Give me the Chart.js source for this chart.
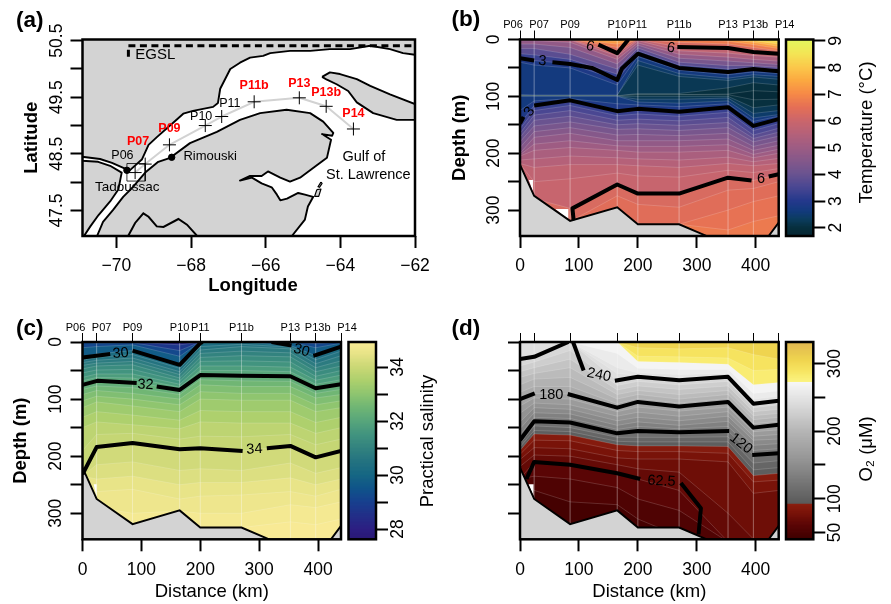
<!DOCTYPE html>
<html><head><meta charset="utf-8">
<style>html,body{margin:0;padding:0;background:#fff;width:891px;height:604px;overflow:hidden}canvas{position:absolute;left:0;top:0}</style>
<script src="https://cdn.jsdelivr.net/npm/chart.js@4"></script>
</head><body>
<script>
// ---------- station data
const stationNames=['P06','P07','P09','P10','P11','P11b','P13','P13b','P14'];
const stationKm=[0,24,85,165,200,270,353,396,439];
const stationLon=[-69.50,-69.23,-68.58,-67.62,-67.18,-66.31,-65.10,-64.38,-63.65];
const stationLat=[48.17,48.32,48.66,49.00,49.16,49.42,49.49,49.34,48.94];
const stationRed=[false,true,true,false,false,true,true,true,true];
const stationLabelLon=[-69.84,-69.42,-68.58,-67.73,-66.96,-66.31,-65.10,-64.38,-63.65];
const stationLabelLat=[48.47,48.72,48.94,49.16,49.39,49.70,49.75,49.59,49.21];
const stationLabelNudge=[-7,5,0,0,0,0,0,2,6];
// ---------- map outlines [lon,lat]
const waterOutline=[[-70.87,47.05],[-70.70,47.22],[-70.48,47.42],[-70.17,47.66],[-69.95,47.87],[-69.86,48.17],[-70.17,48.29],[-70.49,48.36],[-70.92,48.38],[-70.92,48.45],[-70.44,48.41],[-70.12,48.34],[-69.77,48.24],[-69.66,48.20],[-69.32,48.40],[-69.14,48.66],[-68.91,48.80],[-68.48,49.05],[-68.21,49.21],[-67.95,49.26],[-67.41,49.33],[-67.28,49.40],[-67.22,49.65],[-66.95,50.00],[-66.69,50.11],[-66.42,50.20],[-66.07,50.23],[-65.88,50.28],[-65.35,50.32],[-64.81,50.32],[-64.28,50.35],[-63.74,50.35],[-63.20,50.41],[-62.67,50.35],[-62.32,50.28],[-62.0,50.25],[-62.0,47.05],[-65.30,47.05],[-64.95,47.34],[-64.87,47.57],[-64.73,47.74],[-64.95,47.78],[-65.13,47.81],[-65.43,47.71],[-65.61,47.68],[-65.70,47.78],[-65.84,47.91],[-66.11,47.98],[-66.37,48.08],[-66.69,48.03],[-66.42,48.11],[-66.11,48.11],[-65.94,48.19],[-65.61,48.08],[-65.35,48.01],[-65.08,48.08],[-64.73,48.25],[-64.36,48.43],[-64.25,48.75],[-64.49,48.85],[-64.22,48.82],[-64.19,48.87],[-64.46,49.07],[-64.81,49.22],[-65.44,49.28],[-66.15,49.22],[-66.69,49.10],[-67.31,48.89],[-68.03,48.69],[-68.56,48.43],[-68.88,48.36],[-69.23,48.17],[-69.55,47.92],[-69.82,47.74],[-70.09,47.51],[-70.36,47.30],[-70.52,47.05],[-70.87,47.05]];
const anticosti=[[-64.49,49.86],[-64.28,49.94],[-64.01,49.91],[-63.56,49.82],[-63.20,49.70],[-62.67,49.55],[-62,49.38],[-62,49.10],[-62.49,49.10],[-63.12,49.22],[-63.56,49.41],[-63.79,49.61],[-64.10,49.73],[-64.36,49.81],[-64.49,49.86]];
const islandA=[[-64.52,48.0],[-64.49,47.98],[-64.56,47.91],[-64.60,47.92],[-64.52,48.0]];
const islandB=[[-64.63,47.87],[-64.52,47.88],[-64.58,47.75],[-64.69,47.75],[-64.63,47.87]];
const borderLine=[[-69.68,47.06],[-69.5,47.28],[-69.28,47.45],[-69.14,47.39],[-68.92,47.22],[-68.74,47.21],[-68.34,47.35],[-68.11,47.25],[-67.85,47.06]];
const tadoussacBox=[[-69.72,48.33],[-69.23,48.33],[-69.23,48.02],[-69.72,48.02],[-69.72,48.33]];
const egslHorizontal=[[-69.68,50.41],[-62,50.41]];
const egslVertical=[[-69.68,50.34],[-69.68,50.16]];
const cityPoints=[[-69.72,48.21],[-68.52,48.44]];
// ---------- ticks
const lonTicks=[-70,-68,-66,-64,-62];
const lonLabels=['\u221270','\u221268','\u221266','\u221264','\u221262'];
const latTicks=[47.5,48,48.5,49,49.5,50,50.5];
const latLabels=['47.5','','48.5','','49.5','','50.5'];
const depthTicks=[0,50,100,150,200,250,300];
const depthLabels=['0','','100','','200','','300'];
const distTicks=[0,100,200,300,400];
const distLabels=['0','100','200','300','400'];
const tempTicks=[2,3,4,5,6,7,8,9];
const tempLabels=['2','3','4','5','6','7','8','9'];
const salTicks=[28,29,30,31,32,33,34];
const salLabels=['28','','30','','32','','34'];
const oxyTicks=[50,100,150,200,250,300];
const oxyLabels=['50','100','','200','','300'];
// ---------- seabed
const groundKm=[0,24,85,165,200,270,320,421,439];
const groundDepth=[220,275,319,295,325,325,347,347,322];
const groundAtStations=[220,275,319,295,325,325,347,347,322];
const noDataB1=[[15,247],[22,247],[22,268],[15,247]];
const noDataB2=[[60,298],[82,298],[82,317],[60,298]];
const noDataC=[[19,249],[24,249],[24,272],[19,249]];
const noDataD=[[14,249],[23,249],[23,270],[14,249]];
// ---------- temperature section: band colour value and upper limit (m) at each station
const tempBandValues=[8.7,8.25,7.75,7.25,6.75,6.25,5.75,5.25,4.75,4.25,3.75,3.25,2.85,2.65,2.4,2.2,2.0,1.85,2.0,2.2,2.4,2.65,2.85,3.25,3.5,3.75,4.0,4.25,4.5,4.75,5.0,5.25,5.5,5.75,5.9,6.25,6.4,6.55,6.7];
const tempBandDepths=[
[0,0,0,0,0,0,0,0,0],[0,0,0,0,0,0,0,0,3],[0,0,0,0,0,0,0,2,8],[0,0,0,3,0,0,0,5,12],[0,0,0,8,0,0,3,9,16],[0,0,0,14,0,5,8,14,20],[0,0,0,24,0,13,15,22,25],[0,0,1,29,2,20,24,28,31],[2,2,5,35,6,26,31,35,38],[8,8,14,43,10,33,38,41,44],[16,16,26,52,15,40,46,46,49],[25,27,35,61,20,45,52,49,53],[33,37,43,71,25,50,57,52,56],[40,45,50,80,30,54,62,57,60],[97,98,98,98,37,60,68,62,65],[98,98,98,98,45,65,72,66,70],[99,99,99,99,95,95,85,76,80],[99,99,99,99,97,97,96,90,92],[99,99,99,99,97,97,97,106,105],[100,100,100,100,100,100,100,120,115],[100,100,100,100,105,105,103,130,125],[100,100,100,100,110,112,108,138,132],[125,108,104,113,115,118,113,144,135],[148,116,107,126,122,127,119,152,140],[157,125,116,134,131,135,128,160,148],[165,133,125,142,140,143,137,168,156],[172,142,135,150,148,151,146,174,163],[180,152,145,158,157,160,155,180,170],[190,162,155,168,167,169,165,188,178],[200,172,165,178,178,178,175,195,186],[203,184,178,187,188,188,185,202,193],[205,195,190,195,198,198,195,208,200],[212,210,205,208,210,212,207,215,209],[218,225,220,220,222,225,218,222,218],[219,250,245,235,240,242,230,234,227],[219,280,297,255,271,271,243,248,237],[219,280,320,275,290,295,265,262,250],[219,280,320,296,325,325,300,285,275],[219,280,320,296,325,325,335,320,310]];
const temp3UpperA=[[0,33],[24,37]];
const temp3UpperB=[[55,40],[85,43],[122,50],[165,71],[173,51],[200,25],[270,50],[353,57],[396,52],[439,56]];
const temp3LowerA=[[0,148],[6,136]];
const temp3LowerB=[[24,116],[85,107],[165,126],[200,122],[270,127],[353,119],[396,152],[439,140]];
const temp6TopA=[[133,9],[165,24],[184,0]];
const temp6TopB=[[267,13],[353,15],[396,22],[439,25]];
const temp6DeepA=[[91,318],[89,297],[165,255],[200,271],[270,271],[353,243],[393,248]];
const temp6DeepB=[[422,241],[439,237]];
// ---------- salinity section
const salBandValues=[28.2,28.7,29.2,29.7,30.25,30.5,30.75,31,31.25,31.5,31.75,32,32.25,32.5,32.75,33,33.25,33.5,33.75,33.9,34.1,34.3,34.5,34.65,34.8,34.9];
const salBandDepths=[
[0,0,0,0,0,0,0,0,0],[0,0,0,5,0,0,0,0,0],[0,2,1,15,0,0,0,3,0],[10,8,5,25,0,0,0,10,2],[27,21,15,40,2,0,6,24,8],[32,27,22,46,8,4,9,31,16],[36,32,28,52,14,8,12,38,24],[41,37,34,57,20,16,19,45,33],[47,42,40,63,27,24,26,52,42],[54,49,48,68,34,33,35,60,50],[62,56,56,74,42,42,44,67,58],[68,62,63,79,50,50,52,74,66],[75,68,70,84,58,59,60,81,74],[83,77,80,92,66,68,69,90,83],[92,85,90,100,75,78,78,98,92],[103,95,100,110,87,90,90,110,103],[115,105,112,122,100,102,102,122,115],[132,122,128,137,120,122,122,141,132],[150,140,145,152,140,142,142,160,150],[190,162,160,170,165,166,162,180,170],[232,184,177,188,186,191,182,202,191],[235,215,210,225,222,225,212,230,220],[235,240,235,250,246,246,238,250,240],[235,262,258,275,270,268,262,270,258],[235,290,300,296,300,300,285,290,280],[235,290,319,296,325,325,315,320,310]];
const sal30A=[[0,27],[47,21]];
const sal30B=[[85,15],[165,40],[200,2],[204,0]];
const sal30C=[[321,0],[355,6]];
const sal30D=[[392,24],[396,23],[439,8]];
const sal32A=[[0,75],[25,68],[92,72]];
const sal32B=[[126,78],[165,84],[200,58],[270,59],[353,60],[396,81],[439,74]];
const sal34A=[[0,232],[24,184],[85,177],[165,188],[200,186],[272,191]];
const sal34B=[[313,186],[353,182],[396,202],[439,191]];
// ---------- oxygen section
const oxyBandValues=[305,290,280,268,258,250,243,235,225,215,205,195,185,175,165,155,145,135,125,115,105,96,88,78,72,66,60,52,45];
const oxyBandDepths=[
[0,0,0,0,0,0,0,0,0],[0,0,0,0,10,12,10,22,30],[0,0,0,0,25,26,28,50,48],[0,0,0,0,34,36,39,75,71],[0,0,0,20,46,48,48,90,86],[0,0,0,45,54,57,55,100,95],[0,0,0,55,58,62,58,104,99],[30,26,0,68,61,67,61,108,103],[42,35,15,76,69,75,69,115,110],[52,45,30,84,77,83,77,122,118],[62,55,45,92,85,92,85,129,125],[75,65,62,100,92,100,92,136,132],[88,78,78,108,99,107,99,143,139],[100,90,91,115,105,113,105,150,145],[112,98,100,122,114,121,114,157,154],[125,107,110,130,123,130,122,165,162],[140,115,118,138,132,138,130,172,170],[152,124,126,146,140,146,139,181,178],[163,132,134,153,148,152,148,190,187],[172,139,141,160,156,158,156,198,195],[178,147,150,167,167,167,166,212,208],[184,155,157,174,175,175,175,224,220],[190,161,163,180,182,182,183,234,230],[197,172,173,190,192,192,195,245,242],[206,185,187,203,205,205,210,265,260],[218,198,200,215,222,228,300,345,350],[240,210,215,230,240,260,350,350,350],[240,235,240,255,275,295,350,350,350],[240,260,280,285,310,340,350,350,350]];
const oxy240A=[[0,30],[24,26],[82,0]];
const oxy240B=[[90,0],[108,50]];
const oxy240C=[[161,68],[200,61],[270,67],[353,61],[396,108],[439,103]];
const oxy180A=[[0,100],[25,90]];
const oxy180B=[[81,91],[165,115],[200,105],[270,113],[353,105],[396,150],[439,145]];
const oxy120A=[[0,172],[24,139],[85,141],[165,160],[200,156],[270,158],[355,156]];
const oxy120B=[[394,198],[439,195]];
const oxy62A=[[11,240],[24,210],[85,215],[165,230],[204,240]];
const oxy62B=[[273,247],[307,291],[303,337]];
// ---------- colour ramps [value,colour]
const thermalRamp=[[1.6,'#04222e'],[2,'#07303f'],[2.3,'#0b3c5f'],[2.6,'#123a7c'],[3,'#25398c'],[3.5,'#4a4792'],[4,'#6a5390'],[4.5,'#85588a'],[5,'#9e5c83'],[5.5,'#b56179'],[6,'#cb666b'],[6.5,'#e56f55'],[7,'#f68a47'],[7.5,'#fba941'],[8,'#fbc84b'],[8.5,'#f3e555'],[9.1,'#e2f95f']];
const halineRamp=[[27.6,'#2a1876'],[28,'#2c1f82'],[29,'#17408e'],[29.5,'#0f5489'],[30,'#166783'],[30.5,'#247380'],[31,'#33837f'],[31.5,'#42947f'],[32,'#58a67b'],[32.5,'#70b674'],[33,'#8fc56f'],[33.5,'#aed06d'],[34,'#cbd876'],[34.5,'#e8e488'],[35,'#fcec98']];
const oxyRamp=[[39,'#3d0000'],[60,'#5a0505'],[80,'#7c1409'],[92,'#8a1f10'],[92.01,'#5a5a5a'],[120,'#737373'],[160,'#979797'],[200,'#b6b6b6'],[240,'#dcdcdc'],[272,'#f7f7f7'],[272.01,'#fbf481'],[290,'#f6e35f'],[305,'#efd44f'],[333,'#dfb550']];

const FONT='"Liberation Sans", Arial, sans-serif';
const W=891,H=604;
const hex=h=>[parseInt(h.slice(1,3),16),parseInt(h.slice(3,5),16),parseInt(h.slice(5,7),16)];
function colorAt(ramp,v){
  if(v<=ramp[0][0])return ramp[0][1];
  for(let i=1;i<ramp.length;i++){ if(v<=ramp[i][0]){
    const a=ramp[i-1],b=ramp[i],t=(v-a[0])/(b[0]-a[0]),ca=hex(a[1]),cb=hex(b[1]);
    return 'rgb('+ca.map((c,k)=>Math.round(c+(cb[k]-c)*t)).join(',')+')';
  }}
  return ramp[ramp.length-1][1];
}
const fixed=size=>s=>{ if(s.isHorizontal())s.height=size; else s.width=size; s.paddingLeft=s.paddingRight=s.paddingTop=s.paddingBottom=0; };
const setTicks=vals=>s=>{s.ticks=vals.map(value=>({value}));};
const lab=(vals,labels)=>v=>{const i=vals.indexOf(v);return i<0?'':labels[i];};
const titleOpt=(text,bold)=>text?{display:true,text,color:'#000',padding:0,font:{family:FONT,size:18.5,weight:bold?'bold':'normal',lineHeight:1.2}}:{display:false};
function hAxis(min,max,vals,labels,size,title,bold){return {type:'linear',position:'bottom',min,max,afterBuildTicks:setTicks(vals),afterFit:fixed(size),
  ticks:{autoSkip:false,minRotation:0,maxRotation:0,padding:8,color:'#000',font:{family:FONT,size:17.5},callback:lab(vals,labels)},
  grid:{drawOnChartArea:false,drawTicks:true,tickLength:12,tickWidth:2,tickColor:'#000'},border:{display:false},title:titleOpt(title,bold)};}
function vAxis(min,max,vals,labels,size,pad,pos,title,reverse){return {type:'linear',position:pos,min,max,reverse:!!reverse,afterBuildTicks:setTicks(vals),afterFit:fixed(size),
  ticks:{autoSkip:false,minRotation:90,maxRotation:90,crossAlign:'center',padding:pad,color:'#000',font:{family:FONT,size:17.5},callback:lab(vals,labels)},
  grid:{drawOnChartArea:false,drawTicks:true,tickLength:12,tickWidth:2,tickColor:'#000'},border:{display:false},title:titleOpt(title,true)};}
function topAxis(min,max){return {type:'linear',position:'top',min,max,afterBuildTicks:setTicks(stationKm),afterFit:fixed(30),
  ticks:{display:false},grid:{drawOnChartArea:false,drawTicks:true,tickLength:9,tickWidth:1,tickColor:'#000'},border:{display:false}};}
const xy=p=>p.map(q=>({x:q[0],y:q[1]}));
function frameAndText(items,bg){return {id:'frameText',
  beforeDatasetsDraw(c){ if(bg){const a=c.chartArea;c.ctx.save();c.ctx.fillStyle=bg;c.ctx.fillRect(a.left,a.top,a.width,a.height);c.ctx.restore();} },
  afterDraw(c){const ctx=c.ctx,a=c.chartArea;ctx.save();ctx.strokeStyle='#000';ctx.lineWidth=2.5;ctx.strokeRect(a.left,a.top,a.width,a.height);
    items.forEach(m=>{const px=m.px?m.x:c.scales.x.getPixelForValue(m.x),py=m.px?m.y:c.scales.y.getPixelForValue(m.y);
      ctx.save();ctx.translate(px,py);ctx.rotate((m.rot||0)*Math.PI/180);ctx.font=m.font;ctx.fillStyle=m.color||'#000';ctx.textAlign=m.align||'center';ctx.textBaseline='middle';ctx.fillText(m.t,0,0);ctx.restore();});
    ctx.restore();}};}
function makeChart(box,scales,datasets,items,bg,axisL,axisB,axisR,axisT,type,labels){
  const cv=document.createElement('canvas');cv.width=W;cv.height=H;document.body.appendChild(cv);
  const n=datasets.length;datasets.forEach((d,i)=>{d.order=n-i;});
  new Chart(cv,{type:type||'line',data:{labels:labels||[],datasets},plugins:[frameAndText(items,bg)],
   options:{responsive:false,animation:false,events:[],devicePixelRatio:1,
    layout:{padding:{left:box.l-axisL,right:W-box.r-axisR,top:box.t-axisT,bottom:H-box.b-axisB}},
    elements:{point:{radius:0},line:{tension:0}},
    plugins:{legend:{display:false},tooltip:{enabled:false},title:{display:false}},scales}});
}
const lineSet=(pts,color,width,extra)=>Object.assign({data:xy(pts),borderColor:color,borderWidth:width,backgroundColor:'transparent',fill:false,pointRadius:0,borderJoinStyle:'round',borderCapStyle:'butt',spanGaps:false},extra||{});
const polySet=(pts,fillc,stroke,width)=>({data:xy(pts),backgroundColor:fillc,fill:'shape',borderColor:stroke,borderWidth:width,pointRadius:0,borderJoinStyle:'round'});
const LAB=bold=>(bold?'bold ':'')+'12.5px '+FONT;

// ---------- panel (a) map
const MAP_BOX={l:82.5,r:415,t:39.5,b:236};
const mapScales=()=>({x:hAxis(-70.91,-62,lonTicks,lonLabels,60.5,'',true),y:vAxis(47.05,50.52,latTicks,latLabels,61.9,-4,'left','Latitude')});
(function(){
  const route=stationLon.map((v,i)=>[v,stationLat[i]]);
  const ds=[
    polySet(waterOutline,'#ffffff','#000',1.9),
    polySet(anticosti,'#d3d3d3','#000',1.9),
    polySet(islandA,'#d3d3d3','#000',1.2),
    polySet(islandB,'#d3d3d3','#000',1.2),
    lineSet(route,'#d2d2d2',2),
    lineSet(tadoussacBox,'#000',0.8),
    lineSet(egslHorizontal,'#000',3,{borderDash:[7,4.5]}),
    lineSet(egslVertical,'#000',3,{borderDash:[7,4.5]}),
    lineSet(route,'#000',1,{showLine:false,pointStyle:'cross',pointRadius:6.5,pointBorderWidth:1,pointBorderColor:'#000'}),
    lineSet(cityPoints,'#000',1,{showLine:false,pointStyle:'circle',pointRadius:3.2,pointBackgroundColor:'#000',pointBorderColor:'#000'})
  ];
  const items=stationNames.map((t,i)=>({t,x:stationLabelLon[i],y:stationLabelLat[i],font:LAB(stationRed[i]),color:stationRed[i]?'#ff0000':'#000'}));
  items.push({t:'Rimouski',x:-67.49,y:48.46,font:'13px '+FONT},{t:'Tadoussac',x:-69.71,y:47.91,font:'13.5px '+FONT},
    {t:'Gulf of',x:-63.37,y:48.45,font:'14.5px '+FONT},{t:'St. Lawrence',x:-63.25,y:48.13,font:'14.5px '+FONT},
    {t:'EGSL',x:-68.96,y:50.24,font:'15px '+FONT},
    {t:'Longitude',x:253,y:286,px:true,font:'bold 18.5px '+FONT},
    {t:'(a)',x:16,y:21,px:true,align:'left',font:'bold 22.5px '+FONT});
  makeChart(MAP_BOX,mapScales(),ds,items,'#d3d3d3',61.9,60.5,0,0);
})();

// ---------- section helpers
const XMAX=439,YMAX=345.6;
function section(box,bandVals,bandDepths,ramp,contours,nodata,items,axisL,axisB,yPad,yLabels,yTitle,xTitle,showNames){
  const ds=[];
  bandDepths.forEach((row,i)=>{ds.push({data:stationKm.map((x,k)=>({x,y:row[k]})),fill:{value:YMAX+5},backgroundColor:colorAt(ramp,bandVals[i]),borderColor:'rgba(255,255,255,0.24)',borderWidth:0.7,pointRadius:0});});
  ds.push(lineSet(stationKm.flatMap((x,i)=>[[x,0],[x,groundAtStations[i]],[x,null]]),'rgba(255,255,255,0.2)',0.7));
  nodata.forEach(p=>ds.push(polySet(p,'#ffffff','#ffffff',0)));
  ds.push({data:groundKm.map((x,i)=>({x,y:groundDepth[i]})),fill:{value:YMAX+5},backgroundColor:'#d3d3d3',borderColor:'#000',borderWidth:1.9,pointRadius:0});
  contours.forEach(c=>ds.push(lineSet(c,'#000',4)));
  const all=items.slice();
  if(showNames){stationNames.forEach((t,i)=>{all.push({t,x:box.l+stationKm[i]/XMAX*(box.r-box.l)+stationLabelNudge[i],y:box.t-14.5,px:true,font:'11px '+FONT});});}
  makeChart(box,{x:hAxis(0,XMAX,distTicks,distLabels,axisB,xTitle,false),xTop:topAxis(0,XMAX),y:vAxis(0,YMAX,depthTicks,yLabels,axisL,yPad,'left',yTitle,true)},ds,all,null,axisL,axisB,0,30);
}
const CL='14.5px '+FONT;
// panel (b)
section({l:520,r:778.7,t:39.5,b:236},tempBandValues,tempBandDepths,thermalRamp,
 [temp3UpperA,temp3UpperB,temp3LowerA,temp3LowerB,temp6TopA,temp6TopB,temp6DeepA,temp6DeepB],[noDataB1,noDataB2],
 [{t:'3',x:38,y:38,font:CL,rot:5},{t:'3',x:16,y:127,font:CL,rot:-55},{t:'6',x:119,y:12,font:CL,rot:15},{t:'6',x:256,y:15,font:CL,rot:10},{t:'6',x:409,y:246,font:CL},
  {t:'(b)',x:451.5,y:20,px:true,align:'left',font:'bold 22.5px '+FONT}],
 71,40,-0.6,depthLabels,'Depth (m)','',true);
// panel (c)
section({l:82.5,r:341,t:342,b:539.3},salBandValues,salBandDepths,halineRamp,
 [sal30A,sal30B,sal30C,sal30D,sal32A,sal32B,sal34A,sal34B],[noDataC],
 [{t:'30',x:65,y:20,font:CL,rot:-5},{t:'30',x:372,y:15,font:CL,rot:15},{t:'32',x:107,y:75,font:CL,rot:3},{t:'34',x:292,y:188,font:CL,rot:-3},
  {t:'(c)',x:16,y:329,px:true,align:'left',font:'bold 22.5px '+FONT}],
 72.9,63.8,-0.6,depthLabels,'Depth (m)','Distance (km)',true);
// panel (d)
section({l:520,r:778.7,t:342,b:539.3},oxyBandValues,oxyBandDepths,oxyRamp,
 [oxy240A,oxy240B,oxy240C,oxy180A,oxy180B,oxy120A,oxy120B,oxy62A,oxy62B],[noDataD],
 [{t:'240',x:134,y:58,font:CL,rot:12},{t:'180',x:53,y:92,font:CL},{t:'120',x:375,y:178,font:CL,rot:38},{t:'62.5',x:240,y:244,font:CL,rot:3},
  {t:'(d)',x:451.5,y:329,px:true,align:'left',font:'bold 22.5px '+FONT}],
 71,63.8,-0.6,depthLabels.map(()=>''),'','Distance (km)',false);

// ---------- colour bars
function colorBar(box,vmin,vmax,step,ramp,ticks,labels,pad,title,titleX,titleY){
  const ds=[];
  for(let v=vmin;v<vmax;v+=step){ds.push({data:[[v,Math.min(vmax,v+step*1.15)]],backgroundColor:colorAt(ramp,v+step/2),borderWidth:0,barPercentage:1,categoryPercentage:1,grouped:false});}
  ds.reverse();
  makeChart(box,{x:{type:'category',display:false},y:vAxis(vmin,vmax,ticks,labels,60,pad,'right','',false)},ds,
    [{t:title,x:titleX,y:titleY,px:true,rot:-90,font:'18.5px '+FONT}],null,0,0,60,0,'bar',['bar']);
}
colorBar({l:786,r:813.3,t:39.5,b:236},1.69,9.05,0.05,thermalRamp,tempTicks,tempLabels,5.6,'Temperature (\u00b0C)',866.7,132.5);
colorBar({l:348.5,r:376,t:342,b:539.3},27.62,34.93,0.05,halineRamp,salTicks,salLabels,0.8,'Practical salinity',428,441);
colorBar({l:786,r:813.3,t:342,b:539.3},40,332,2,oxyRamp,oxyTicks,oxyLabels,-4.6,'O\u2082 (\u03bcM)',866.7,449);
// map border drawn last on its own layer
(function(){
  const cv=document.createElement('canvas');cv.width=W;cv.height=H;document.body.appendChild(cv);
  new Chart(cv,{type:'line',data:{datasets:[{data:xy(borderLine),borderColor:'#000',borderWidth:2,fill:false,pointRadius:0}]},
    options:{responsive:false,animation:false,events:[],devicePixelRatio:1,
      layout:{padding:{left:MAP_BOX.l,right:W-MAP_BOX.r,top:MAP_BOX.t,bottom:H-MAP_BOX.b}},
      plugins:{legend:{display:false},tooltip:{enabled:false}},
      scales:{x:{type:'linear',display:false,min:-70.91,max:-62},y:{type:'linear',display:false,min:47.05,max:50.52}}}});
})();
</script>
</body></html>
